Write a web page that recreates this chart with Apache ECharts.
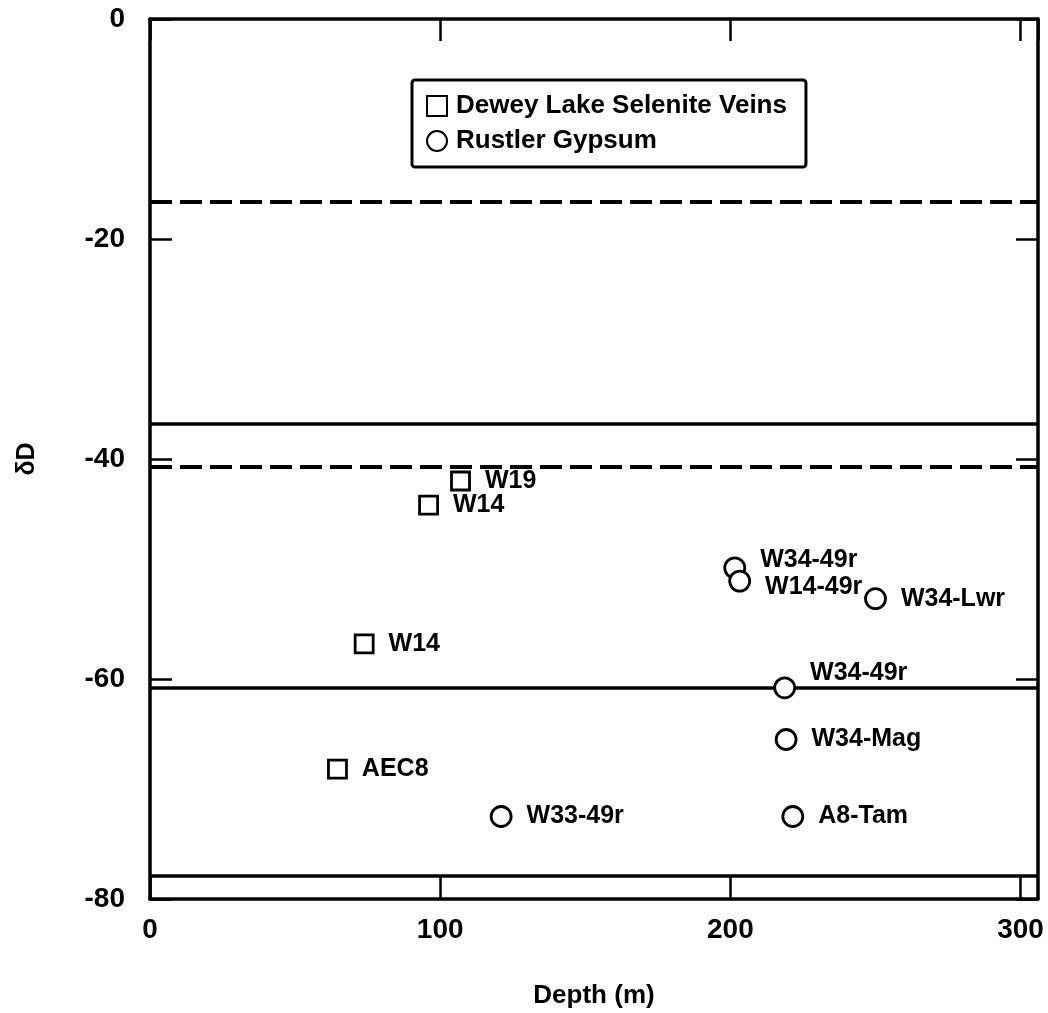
<!DOCTYPE html>
<html>
<head>
<meta charset="utf-8">
<script src="https://cdn.jsdelivr.net/npm/echarts@6/dist/echarts.min.js"></script>
<style>
  html, body { margin: 0; padding: 0; background: #fff; }
  #chart { width: 1048px; height: 1013px; }
</style>
</head>
<body>
<div id="chart"></div>
<script>
// ---- data ----
const deweyName = 'Dewey Lake Selenite Veins';
const deweyDepth = [107, 96, 73.8, 64.6];
const deweyDD = [-42.0, -44.2, -56.8, -68.2];
const deweyLabels = ['W19', 'W14', 'W14', 'AEC8'];

const rustlerName = 'Rustler Gypsum';
const rustlerDepth = [201.5, 203.2, 250, 218.7, 219.2, 121, 221.5];
const rustlerDD = [-49.9, -51.1, -52.7, -60.8, -65.5, -72.5, -72.5];
const rustlerLabels = ['W34-49r', 'W14-49r', 'W34-Lwr', 'W34-49r', 'W34-Mag', 'W33-49r', 'A8-Tam'];

const dashedLevels = [-16.6, -40.7];
const solidLevels = [-36.8, -60.8, -77.9];

const xTicks = [0, 100, 200, 300];
const yTicks = [0, -20, -40, -60, -80];

// ---- layout / style ----
const FONT = '"Liberation Sans", Arial, Helvetica, sans-serif';
const rustlerLabelShift = { 0: [0, -8], 1: [0, 6], 3: [0, -15] };

function pts(xs, ys, labels, shifts) {
  return xs.map((x, i) => {
    const p = { value: [x, ys[i]], name: labels[i] };
    if (shifts && shifts[i]) p.label = { offset: shifts[i] };
    return p;
  });
}

const labelStyle = {
  show: true, position: 'right', distance: 14,
  formatter: p => p.name,
  color: '#000', fontFamily: FONT, fontWeight: 'bold', fontSize: 25
};
const markerStyle = { color: '#fff', borderColor: '#000', borderWidth: 2.8, opacity: 1 };

const chart = echarts.init(document.getElementById('chart'), null, { renderer: 'canvas' });

const axisCommon = {
  type: 'value',
  axisLine: { show: true, onZero: false, lineStyle: { color: '#000', width: 3.5 } },
  axisTick: { show: true, inside: true, length: 22, lineStyle: { color: '#000', width: 2.5 } },
  splitLine: { show: false }
};
const tickFont = { color: '#000', fontFamily: FONT, fontWeight: 'bold', fontSize: 28 };

chart.setOption({
  backgroundColor: '#fff',
  animation: false,
  grid: { left: 150, right: 10, top: 19, bottom: 114, containLabel: false, outerBoundsMode: 'none' },
  legend: {
    orient: 'vertical',
    left: 412, top: 80,
    padding: [13, 19, 13, 14],
    itemGap: 9,
    itemWidth: 20, itemHeight: 20,
    borderColor: '#000', borderWidth: 3, borderRadius: 3,
    data: [deweyName, rustlerName],
    textStyle: { color: '#000', fontFamily: FONT, fontWeight: 'bold', fontSize: 26, lineHeight: 24, padding: [0, 0, 0, 4] }
  },
  xAxis: [
    Object.assign({}, axisCommon, {
      position: 'bottom', min: xTicks[0], max: 306, interval: 100,
      name: 'Depth (m)', nameLocation: 'middle', nameGap: 84,
      nameTextStyle: { color: '#000', fontFamily: FONT, fontWeight: 'bold', fontSize: 26 },
      axisLabel: Object.assign({ show: true, margin: 17, showMaxLabel: false }, tickFont)
    }),
    Object.assign({}, axisCommon, {
      position: 'top', min: xTicks[0], max: 306, interval: 100,
      axisLabel: { show: false }
    })
  ],
  yAxis: [
    Object.assign({}, axisCommon, {
      position: 'left', min: yTicks[yTicks.length - 1], max: yTicks[0], interval: 20,
      name: 'δD', nameLocation: 'middle', nameGap: 110, nameRotate: 90,
      nameTextStyle: { color: '#000', fontFamily: FONT, fontWeight: 'bold', fontSize: 25 },
      axisLabel: Object.assign({ show: true, margin: 25 }, tickFont)
    }),
    Object.assign({}, axisCommon, {
      position: 'right', min: yTicks[yTicks.length - 1], max: yTicks[0], interval: 20,
      axisLabel: { show: false }
    })
  ],
  series: [
    {
      name: '__levels', type: 'line', data: [], silent: true,
      markLine: {
        silent: true, symbol: ['none', 'none'], label: { show: false },
        data: dashedLevels.map(v => ({ yAxis: v, lineStyle: { type: [22, 8], width: 4, color: '#000' } }))
          .concat(solidLevels.map(v => ({ yAxis: v, lineStyle: { type: 'solid', width: 3.5, color: '#000' } })))
      }
    },
    {
      name: deweyName, type: 'scatter', symbol: 'rect', symbolSize: 18,
      data: pts(deweyDepth, deweyDD, deweyLabels),
      itemStyle: markerStyle, label: labelStyle, z: 5
    },
    {
      name: rustlerName, type: 'scatter', symbol: 'circle', symbolSize: 20,
      data: pts(rustlerDepth, rustlerDD, rustlerLabels, rustlerLabelShift),
      itemStyle: markerStyle, label: labelStyle, z: 5
    }
  ]
});
</script>
</body>
</html>
